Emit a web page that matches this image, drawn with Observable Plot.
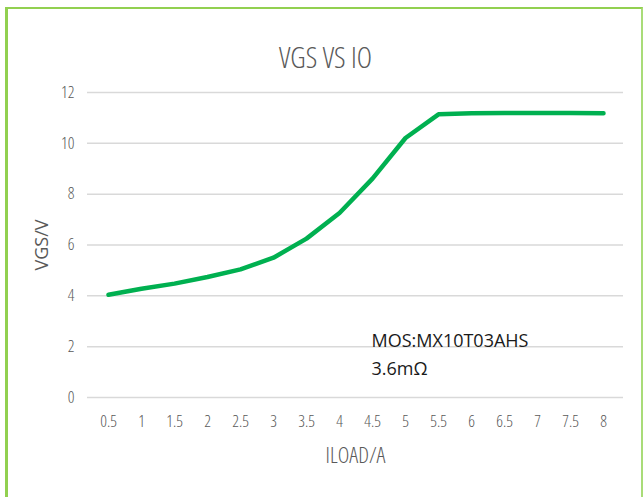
<!DOCTYPE html>
<html>
<head>
<meta charset="utf-8">
<script src="https://cdn.jsdelivr.net/npm/d3@7"></script>
<script src="https://cdn.jsdelivr.net/npm/@observablehq/plot@0.6"></script>
<style>
  html, body { margin: 0; padding: 0; background: #fff; }
  #wrap { position: relative; width: 643px; height: 497px; overflow: hidden; }
  #border { position: absolute; left: 5px; top: 7px; width: 638px; height: 492px;
    border-left: 3px solid #92D050; border-top: 2px solid #92D050; border-right: 2px solid #A9DC78;
    box-sizing: border-box; pointer-events: none; }
  #chart { position: absolute; left: 0; top: 0; }
  #chart svg text { font-stretch: condensed; }
</style>
</head>
<body>
<div id="wrap"><div id="chart"></div><div id="border"></div></div>
<script>
const categories = ["0.5","1","1.5","2","2.5","3","3.5","4","4.5","5","5.5","6","6.5","7","7.5","8"];
const vgs = [4.04, 4.28, 4.48, 4.74, 5.04, 5.50, 6.25, 7.26, 8.61, 10.21, 11.14, 11.18, 11.19, 11.19, 11.19, 11.18];
const yTicks = [0, 2, 4, 6, 8, 10, 12];
const title = "VGS VS IO";
const xLabel = "ILOAD/A";
const yLabel = "VGS/V";
const noteX = "4.5";
const noteLines = ["MOS:MX10T03AHS", "3.6mΩ"];
const noteY = [2.2, 1.1];

const data = categories.map((c, i) => ({x: c, y: vgs[i]}));
const notes = noteLines.map((t, i) => ({x: noteX, y: noteY[i], text: t}));
const font = "'Open Sans', sans-serif";
const grey = "#595959";

const chart = Plot.plot({
  width: 643,
  height: 497,
  marginLeft: 87,
  marginRight: 20,
  marginTop: 92,
  marginBottom: 100,
  style: {fontFamily: font, fontSize: "16px", color: grey, background: "transparent"},
  x: {type: "point", domain: categories, padding: 0.5, label: null},
  y: {domain: [0, 12], ticks: yTicks, label: null},
  marks: [
    Plot.ruleY(yTicks, {stroke: "#D9D9D9", strokeWidth: 1.5}),
    Plot.axisY({ticks: yTicks, tickSize: 0, tickPadding: 13, fontSize: 16.5, fontWeight: 350, fill: grey, label: null}),
    Plot.axisX({tickSize: 0, tickPadding: 18, fontSize: 16.5, fontWeight: 350, fill: grey, label: null}),
    Plot.line(data, {x: "x", y: "y", stroke: "#00B050", strokeWidth: 4.5, strokeLinejoin: "round", strokeLinecap: "round"}),
    Plot.text(notes, {x: "x", y: "y", text: "text", textAnchor: "start", fontSize: 18, fontWeight: 400, fill: "#1a1a1a", dx: -1}),
    Plot.text([title], {frameAnchor: "top", dy: -45, dx: -30, fontSize: 29, fontWeight: 300, fill: grey}),
    Plot.text([xLabel], {frameAnchor: "bottom", dy: 65, fontSize: 22, fontWeight: 300, fill: grey}),
    Plot.text([yLabel], {frameAnchor: "left", textAnchor: "middle", dx: -45, rotate: -90, fontSize: 18, fontWeight: 400, fill: grey})
  ]
});
d3.select(chart).selectAll("text")
  .filter(function() { return this.textContent === yLabel || noteLines.includes(this.textContent); })
  .style("font-stretch", "normal");
document.getElementById("chart").appendChild(chart);
</script>
</body>
</html>
